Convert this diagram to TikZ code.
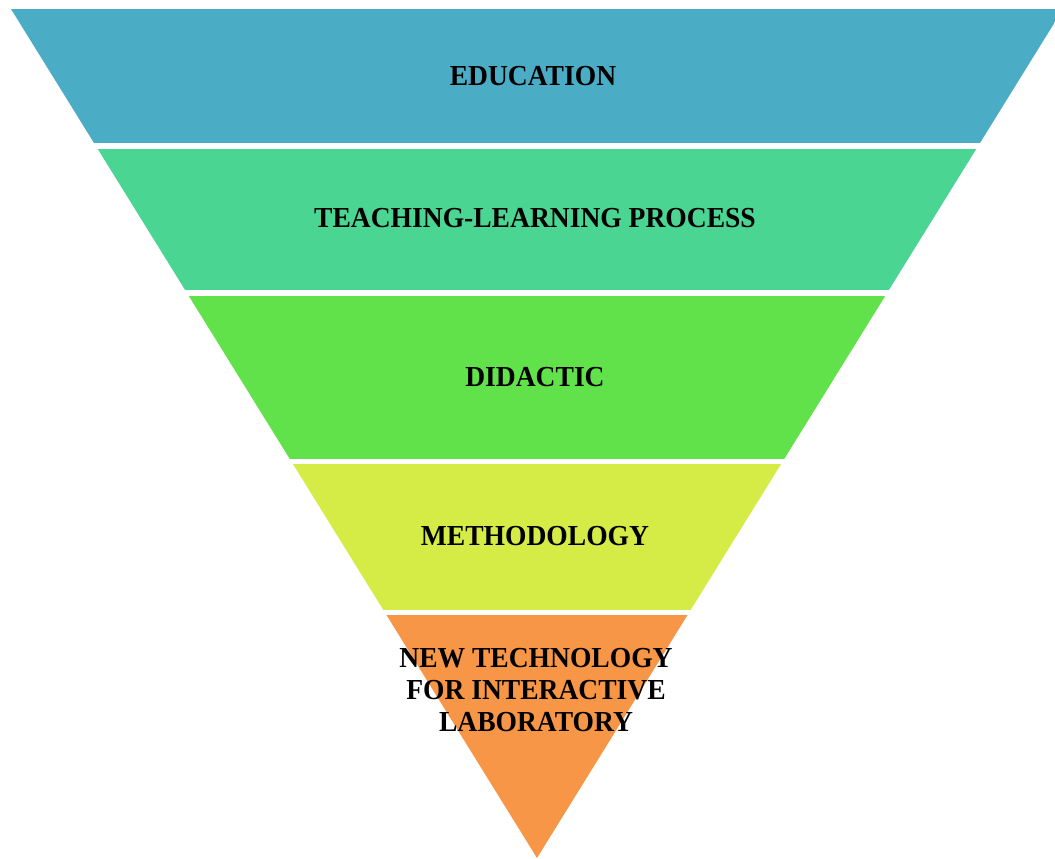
\documentclass[tikz,border=0pt]{standalone}
\usepackage{fontspec}
\setmainfont{Liberation Serif}
\newfontfamily\levelfont[FakeStretch=0.95]{Liberation Serif}
\usepackage{tikz}

\definecolor{educationblue}{HTML}{4BACC6}
\definecolor{teachinggreen}{HTML}{4BD592}
\definecolor{didacticgreen}{HTML}{62E24A}
\definecolor{methodlime}{HTML}{D5EC47}
\definecolor{techorange}{HTML}{F79646}

\tikzset{
	level text/.style={align=center, font=\levelfont\fontsize{29}{32}\selectfont\bfseries, text=black, inner sep=0pt}
}

\begin{document}
\begin{tikzpicture}[x=1pt, y=-1pt]
	\useasboundingbox (0,0) rectangle (1055,859);

	% the funnel, cut into five bands
	\begin{scope}
		\clip (11,9) -- (1063,9) -- (537,858) -- cycle;
		\fill[educationblue] (0,9) rectangle (1055,143);
		\fill[teachinggreen] (0,149) rectangle (1055,290);
		\fill[didacticgreen] (0,296) rectangle (1055,459);
		\fill[methodlime] (0,464) rectangle (1055,610);
		\fill[techorange] (0,615) rectangle (1055,859);
	\end{scope}

	\node[level text] at (533,76) (education) {EDUCATION};
	\node[level text] at (535,218) (teaching) {TEACHING-LEARNING PROCESS};
	\node[level text] at (535,377) (didactic) {DIDACTIC};
	\node[level text] at (535,536) (methodology) {METHODOLOGY};
	\node[level text] at (536,690) (technology) {NEW TECHNOLOGY\\FOR INTERACTIVE\\LABORATORY};
\end{tikzpicture}
\end{document}
